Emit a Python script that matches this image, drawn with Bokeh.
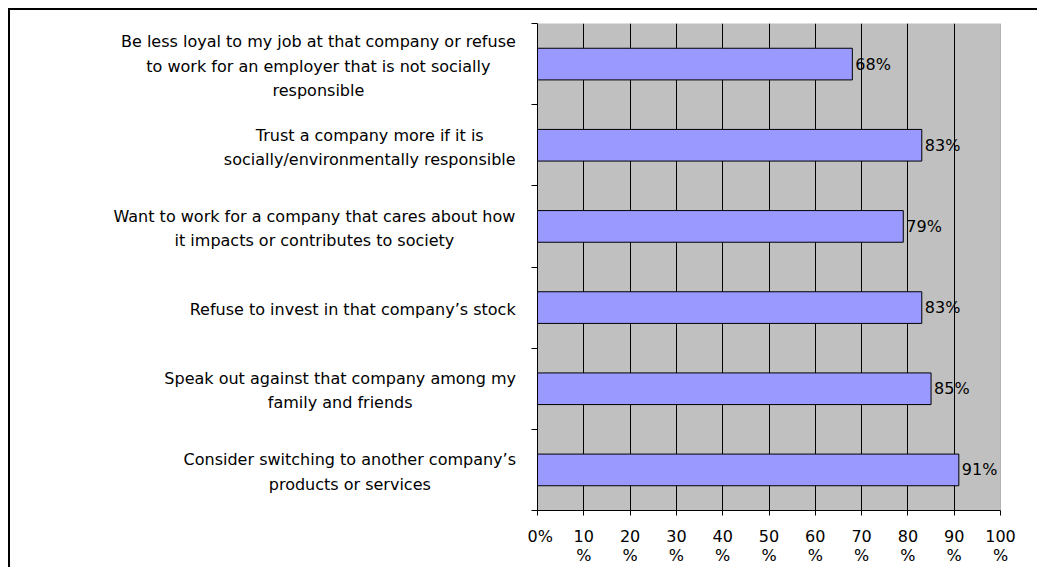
from bokeh.plotting import figure
from bokeh.layouts import row
from bokeh.models import ColumnDataSource, LabelSet, FixedTicker, Span, Range1d
from bokeh.embed import file_html
from bokeh.resources import INLINE
from bokeh.core.properties import value

# ---- data -------------------------------------------------------------
categories = [
    "Be less loyal to my job at that company or refuse\nto work for an employer that is not socially\nresponsible",
    "Trust a company more if it is\nsocially/environmentally responsible",
    "Want to work for a company that cares about how\nit impacts or contributes to society",
    "Refuse to invest in that company\u2019s stock",
    "Speak out against that company among my\nfamily and friends",
    "Consider switching to another company\u2019s\nproducts or services",
]
values = [68, 83, 79, 83, 85, 91]
value_labels = ["68%", "83%", "79%", "83%", "85%", "91%"]
x_ticks = [0, 10, 20, 30, 40, 50, 60, 70, 80, 90, 100]
x_tick_labels = ["0%", "10\n%", "20\n%", "30\n%", "40\n%", "50\n%",
                 "60\n%", "70\n%", "80\n%", "90\n%", "100\n%"]

# ---- styling ----------------------------------------------------------
FONT = "DejaVu Sans"
FS = 16
TOTAL_H = 557
TOP = 13
FRAME_H = 489
LEFT_W = 517          # width of the label panel
TEXT_RIGHT = 505.5    # right edge of label blocks inside label panel

# approximate DejaVu Sans advance widths (units per em = 2048)
_W = {" ": 651, "a": 1255, "b": 1300, "c": 1126, "d": 1300, "e": 1260, "f": 721,
      "g": 1300, "h": 1298, "i": 569, "j": 569, "k": 1186, "l": 569, "m": 1995,
      "n": 1298, "o": 1253, "p": 1300, "q": 1300, "r": 842, "s": 1067, "t": 803,
      "u": 1298, "v": 1212, "w": 1675, "x": 1212, "y": 1212, "z": 1075,
      "B": 1405, "C": 1430, "R": 1423, "S": 1300, "T": 1251, "W": 2025,
      "/": 690, "\u2019": 651, "%": 1946}


def text_width(s):
    return max(sum(_W.get(ch, 1250) for ch in line) for line in s.split("\n")) / 2048 * FS


n = len(categories)
ys = [n - i - 0.5 for i in range(n)]
y_range = Range1d(0, n)

src = ColumnDataSource(dict(
    y=ys, value=values, vlabel=value_labels, cat=categories,
    cx=[TEXT_RIGHT - text_width(c) / 2 for c in categories],
))

# ---- label panel ------------------------------------------------------
lp = figure(width=LEFT_W, height=TOTAL_H, x_range=Range1d(0, LEFT_W), y_range=y_range,
            output_backend="svg", toolbar_location=None,
            x_axis_location=None, y_axis_location=None,
            min_border_left=0, min_border_right=0,
            min_border_top=TOP, min_border_bottom=TOTAL_H - TOP - FRAME_H,
            background_fill_color="white", border_fill_color="white",
            outline_line_color=None)
lp.grid.visible = False
lp.text(x="cx", y="y", text="cat", source=src,
        text_align="center", text_baseline="middle", y_offset=2,
        text_font=value(FONT), text_font_size=f"{FS}px",
        text_line_height=1.28, text_color="black")

# ---- chart ------------------------------------------------------------
p = figure(width=510, height=TOTAL_H, x_range=(0, 100), y_range=y_range,
           output_backend="svg", toolbar_location=None,
           min_border_left=10, min_border_right=37,
           min_border_top=TOP, min_border_bottom=TOTAL_H - TOP - FRAME_H,
           background_fill_color="#C0C0C0", border_fill_color="white",
           outline_line_color=None)

p.xaxis.ticker = FixedTicker(ticks=x_ticks)
p.xaxis.major_label_overrides = {t: lab for t, lab in zip(x_ticks, x_tick_labels)}
p.xaxis.major_tick_out = 5
p.xaxis.major_tick_in = 0
p.xaxis.minor_tick_line_color = None
p.xaxis.major_label_standoff = 11
p.xaxis.major_label_text_font = FONT
p.xaxis.major_label_text_font_size = f"{FS}px"
p.xaxis.major_label_text_line_height = 1.0
p.xaxis.major_label_text_color = "black"
p.xaxis.axis_line_color = "black"

p.yaxis.ticker = FixedTicker(ticks=list(range(n + 1)))
p.yaxis.major_label_overrides = {i: "" for i in range(n + 1)}
p.yaxis.major_tick_out = 6
p.yaxis.major_tick_in = 0
p.yaxis.minor_tick_line_color = None
p.yaxis.major_label_standoff = 0
p.yaxis.axis_line_color = "black"

p.ygrid.visible = False
p.xgrid.ticker = FixedTicker(ticks=x_ticks[1:-1])
p.xgrid.grid_line_color = "black"
p.xgrid.grid_line_width = 1
p.add_layout(Span(location=100, dimension="height", line_color="#8a8a8a", line_width=1))

p.hbar(y="y", left=0, right="value", height=0.39, source=src,
       fill_color="#9999FF", line_color="black", line_width=1)

p.add_layout(LabelSet(x="value", y="y", text="vlabel", source=src,
                      x_offset=3, text_align="left", text_baseline="middle",
                      text_font=value(FONT), text_font_size=f"{FS}px",
                      text_color="black"))

layout = row(lp, p, spacing=0,
             styles={"margin-left": "8px", "margin-top": "8px",
                     "border-left": "2px solid black", "border-top": "2px solid black"})

open("out.html", "w").write(file_html(layout, INLINE))
